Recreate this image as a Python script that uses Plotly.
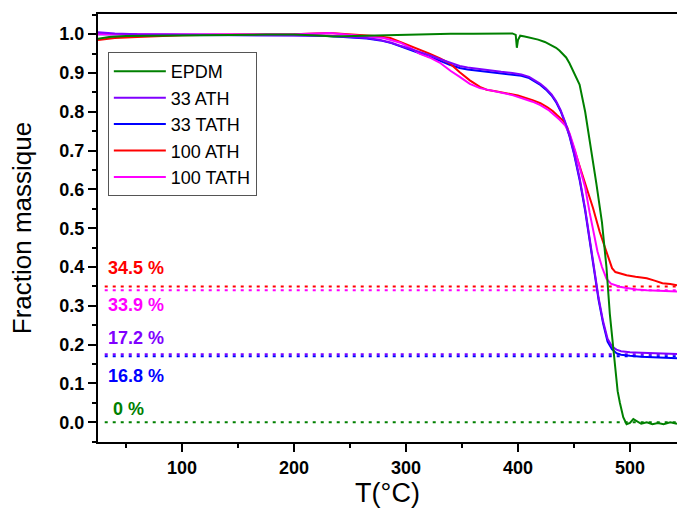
import plotly.graph_objects as go

# ---------------- data ----------------
EPDM_T = [25, 28, 35, 50, 75, 100, 125, 150, 175, 200, 215, 225, 235, 250, 265, 280, 300, 320, 340, 360,
          380, 395, 398, 399, 400, 402, 406, 412, 418, 424, 430, 434, 437, 440, 443, 446, 450, 455, 460, 465,
          470, 475, 479, 482, 485, 487, 489, 491, 494, 497, 500, 503, 506, 510, 515, 520, 525, 530, 536, 542]
EPDM_W = [0.988, 0.99, 0.993, 0.995, 0.996, 0.997, 0.998, 0.998, 0.999, 0.999, 0.998, 0.996, 0.994, 0.995, 0.997, 0.998, 0.999, 1.0, 1.001, 1.001,
          1.002, 1.002, 0.998, 0.965, 0.985, 0.996, 0.994, 0.99, 0.986, 0.98, 0.972, 0.965, 0.958, 0.948, 0.94, 0.925, 0.90, 0.87, 0.80, 0.71,
          0.615, 0.515, 0.40, 0.28, 0.20, 0.15, 0.08, 0.05, 0.013, -0.005, -0.002, 0.008, 0.003, -0.004, 0.0, -0.005, -0.002, -0.005, 0.0, -0.004]

ATH33_T = [25, 30, 40, 60, 100, 150, 200, 230, 250, 265, 277, 287, 295, 304, 312, 321, 330, 339, 348, 355,
           365, 375, 385, 395, 403, 410, 415, 420, 425, 430, 434, 438, 442, 446, 450, 455, 460, 464, 468, 472,
           476, 480, 484, 488, 492, 496, 500, 510, 520, 530, 542]
ATH33_W = [1.005, 1.004, 1.002, 1.0, 0.999, 0.999, 0.998, 0.996, 0.993, 0.99, 0.985, 0.978, 0.97, 0.962, 0.954, 0.946, 0.936, 0.926, 0.918, 0.914,
           0.91, 0.906, 0.903, 0.9, 0.896, 0.89, 0.882, 0.872, 0.86, 0.845, 0.828, 0.805, 0.775, 0.74, 0.695, 0.63, 0.55, 0.47, 0.39, 0.32,
           0.26, 0.215, 0.195, 0.187, 0.183, 0.181, 0.18, 0.179, 0.178, 0.177, 0.176]

TATH33_T = ATH33_T
TATH33_W = [1.0, 1.0, 0.999, 0.999, 0.998, 0.998, 0.997, 0.995, 0.992, 0.989, 0.984, 0.977, 0.969, 0.96, 0.951, 0.942, 0.932, 0.921, 0.913, 0.909,
            0.906, 0.903, 0.9, 0.897, 0.893, 0.887, 0.879, 0.869, 0.857, 0.842, 0.825, 0.802, 0.772, 0.737, 0.692, 0.625, 0.545, 0.465, 0.385, 0.315,
            0.255, 0.208, 0.188, 0.178, 0.174, 0.172, 0.171, 0.169, 0.168, 0.166, 0.165]

ATH100_T = [25, 30, 40, 60, 80, 100, 150, 200, 232, 260, 275, 286, 295, 304, 312, 321, 330, 339, 348, 357,
            366, 372, 380, 390, 400, 413, 420, 426, 431, 435, 440, 444, 449, 455, 461, 467, 473, 478, 481, 484,
            487, 492, 497, 505, 515, 522, 529, 536, 542]
ATH100_W = [0.985, 0.987, 0.99, 0.993, 0.995, 0.997, 0.999, 1.0, 1.003, 0.999, 0.995, 0.99, 0.98, 0.97, 0.96, 0.95, 0.938, 0.925, 0.902, 0.881,
            0.864, 0.857, 0.853, 0.848, 0.842, 0.83, 0.822, 0.812, 0.802, 0.791, 0.778, 0.76, 0.715, 0.665, 0.608, 0.552, 0.49, 0.445, 0.418, 0.397,
            0.387, 0.382, 0.379, 0.375, 0.371, 0.365, 0.358, 0.356, 0.353]

TATH100_T = [25, 50, 100, 150, 200, 232, 260, 280, 295, 304, 312, 321, 330, 340, 348, 357, 366, 380, 395, 413,
             420, 427, 432, 437, 442, 446, 451, 455, 460, 464, 467, 471, 475, 479, 483, 487, 491, 497, 506, 515,
             525, 535, 542]
TATH100_W = [1.0, 1.0, 1.0, 1.0, 1.0, 1.003, 0.996, 0.99, 0.978, 0.965, 0.95, 0.94, 0.927, 0.905, 0.89, 0.872, 0.861, 0.853, 0.843, 0.826,
             0.817, 0.805, 0.793, 0.78, 0.765, 0.745, 0.70, 0.66, 0.605, 0.54, 0.495, 0.44, 0.40, 0.37, 0.357, 0.352, 0.349, 0.346, 0.342, 0.34,
             0.339, 0.338, 0.337]

SERIES_NAMES = ["EPDM", "33 ATH", "33 TATH", "100 ATH", "100 TATH"]
RESIDUE_VALUES = [0.0, 0.175, 0.17, 0.35, 0.34]
RESIDUE_LABELS = ["0 %", "17.2 %", "16.8 %", "34.5 %", "33.9 %"]
REF_T_RANGE = [31, 542]

X_TICKS = [100, 200, 300, 400, 500]
Y_TICKS = [0.0, 0.1, 0.2, 0.3, 0.4, 0.5, 0.6, 0.7, 0.8, 0.9, 1.0]

# ---------------- styling ----------------
COLORS = {"EPDM": "#008000", "33 ATH": "#8000FF", "33 TATH": "#0000FF",
          "100 ATH": "#FF0000", "100 TATH": "#FF00FF"}
DATA = {"EPDM": (EPDM_T, EPDM_W), "33 ATH": (ATH33_T, ATH33_W), "33 TATH": (TATH33_T, TATH33_W),
        "100 ATH": (ATH100_T, ATH100_W), "100 TATH": (TATH100_T, TATH100_W)}
LABEL_Y = {"EPDM": 0.035, "33 ATH": 0.217, "33 TATH": 0.119, "100 ATH": 0.397, "100 TATH": 0.302}
LABEL_X = {"EPDM": 37, "33 ATH": 32, "33 TATH": 32, "100 ATH": 32, "100 TATH": 32}
FONT = "Arial, Liberation Sans, sans-serif"

fig = go.Figure()

# dotted residue reference lines
for name, val in zip(SERIES_NAMES, RESIDUE_VALUES):
    fig.add_trace(go.Scatter(x=REF_T_RANGE, y=[val, val], mode="lines", showlegend=False,
                             hoverinfo="skip",
                             line=dict(color=COLORS[name], width=2, dash="3px,5px")))

# curves (drawing order: blue, red, magenta, purple, green)
draw_order = ["33 TATH", "100 ATH", "100 TATH", "33 ATH", "EPDM"]
for name in draw_order:
    t, w = DATA[name]
    fig.add_trace(go.Scatter(x=t, y=w, mode="lines", name=name,
                             legendrank=SERIES_NAMES.index(name) + 1,
                             line=dict(color=COLORS[name], width=2)))

for name, lab in zip(SERIES_NAMES, RESIDUE_LABELS):
    fig.add_annotation(x=LABEL_X[name], y=LABEL_Y[name], xref="x", yref="y", text="<b>%s</b>" % lab,
                       showarrow=False, xanchor="left", yanchor="middle",
                       font=dict(family=FONT, size=18, color=COLORS[name]))

fig.update_layout(
    width=677, height=511,
    margin=dict(l=98, r=0, t=14, b=69, autoexpand=False),
    paper_bgcolor="white", plot_bgcolor="white",
    font=dict(family=FONT, color="black"),
    showlegend=True,
    legend=dict(x=0.017, y=0.911, xanchor="left", yanchor="top",
                bordercolor="#555555", borderwidth=1, bgcolor="white",
                font=dict(size=18, color="black"), tracegroupgap=0,
                itemwidth=52),
    xaxis=dict(range=[25, 542], showgrid=False, zeroline=False, automargin=False,
               showline=True, linecolor="black", linewidth=2, mirror=True,
               ticks="outside", ticklen=8, tickwidth=1.5, tickcolor="black",
               tickvals=X_TICKS, ticktext=[str(v) for v in X_TICKS],
               minor=dict(ticks="outside", ticklen=4, tickwidth=1.5, dtick=50, tick0=0, tickcolor="black"),
               tickfont=dict(size=18, family=FONT, weight="bold"),
               title=dict(text="T(°C)", font=dict(size=27), standoff=0)),
    yaxis=dict(range=[-0.051, 1.052], showgrid=False, zeroline=False, automargin=False,
               showline=True, linecolor="black", linewidth=2,
               ticks="outside", ticklen=8, tickwidth=1.5, tickcolor="black",
               tickvals=Y_TICKS, ticktext=["%.1f" % v for v in Y_TICKS],
               minor=dict(ticks="outside", ticklen=4, tickwidth=1.5, dtick=0.05, tick0=0, tickcolor="black"),
               tickfont=dict(size=18, family=FONT, weight="bold"),
               title=dict(text="Fraction massique", font=dict(size=26), standoff=20)),
)

fig.write_html("out.html", config={"displayModeBar": False},
               post_script="document.body.style.margin='0';document.body.style.overflow='hidden';")
